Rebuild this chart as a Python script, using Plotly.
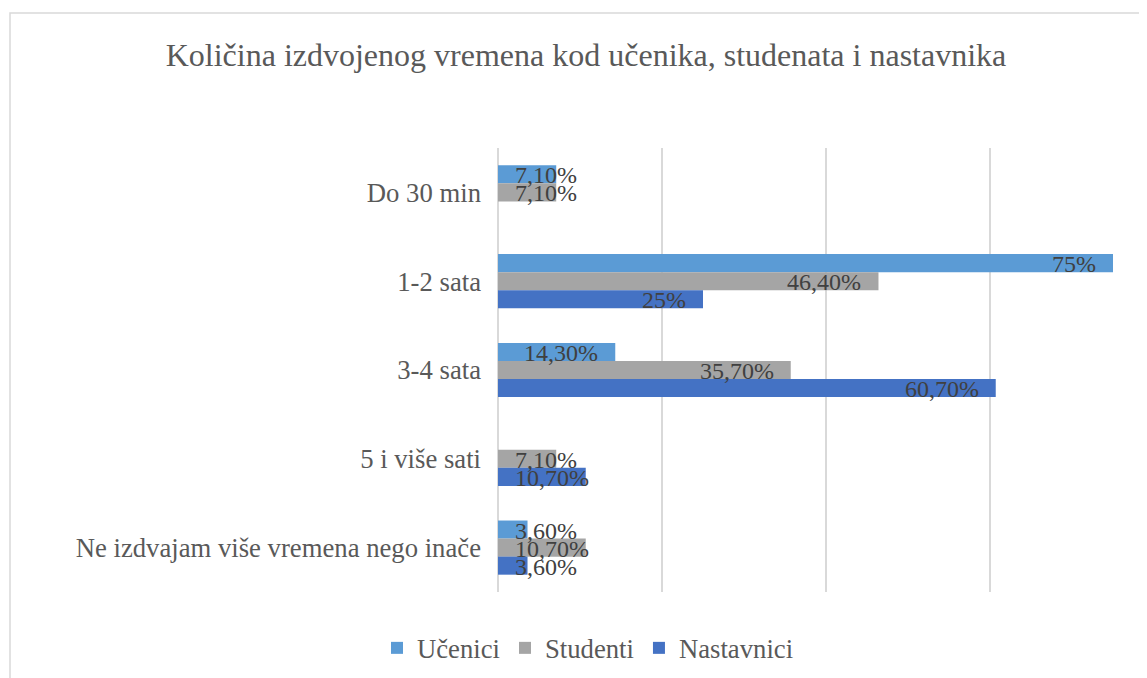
import plotly.graph_objects as go

categories = ["Do 30 min", "1-2 sata", "3-4 sata", "5 i više sati",
              "Ne izdvajam više vremena nego inače"]
series_names = ["Učenici", "Studenti", "Nastavnici"]
ucenici = [7.1, 75, 14.3, None, 3.6]
studenti = [7.1, 46.4, 35.7, 7.1, 10.7]
nastavnici = [None, 25, 60.7, 10.7, 3.6]
colors = ["#5B9BD5", "#A5A5A5", "#4472C4"]
title_text = "Količina izdvojenog vremena kod učenika, studenata i nastavnika"
x_max = 75

W, H = 1147, 678
OFF = 8  # page body margin
L, R, T, B = 498 - OFF, 1113 - OFF, 148 - OFF, 592 - OFF
FONT = "Liberation Serif, Times New Roman, serif"
LABEL_SIZE = 24
BARGAP = 0.39


def fmt(v):
    if v is None:
        return None
    if float(v).is_integer():
        return f"{int(v)}%"
    return f"{v:.2f}".replace(".", ",") + "%"


def text_width(s, size):
    w = {",": 0.25, "%": 0.833}
    return sum(w.get(c, 0.5) for c in s) * size


fig = go.Figure()
all_series = [ucenici, studenti, nastavnici]
for name, vals, col in zip(series_names, all_series, colors):
    fig.add_trace(go.Bar(
        name=name, y=categories, x=vals, orientation="h",
        marker=dict(color=col, line=dict(width=0)),
        textposition="none", hoverinfo="x+y+name",
    ))

pw = R - L
ph = B - T
cat_px = ph / len(categories)
bar_px = cat_px * (1 - BARGAP) / len(all_series)
PAD = 15
annotations = []
for si, vals in enumerate(all_series):
    yshift = (1 - si) * bar_px - 1
    for cat, v in zip(categories, vals):
        if v is None:
            continue
        label = fmt(v)
        bw = v / x_max * pw
        tw = text_width(label, LABEL_SIZE)
        if bw - 2 * PAD - 2 >= tw:
            ann = dict(x=v, xanchor="right", xshift=-PAD)
        else:
            ann = dict(x=0, xanchor="left", xshift=PAD)
        ann.update(y=cat, xref="x", yref="y", yanchor="middle", yshift=yshift,
                   text=label, showarrow=False,
                   font=dict(family=FONT, size=LABEL_SIZE, color="#404040"))
        annotations.append(ann)

fig.update_layout(
    width=W, height=H,
    margin=dict(l=L, r=W - R, t=T, b=H - B, autoexpand=False),
    paper_bgcolor="white", plot_bgcolor="white",
    barmode="group", bargap=BARGAP, bargroupgap=0,
    font=dict(family=FONT, color="#595959", size=26.7),
    title=dict(text=title_text, x=(586 - OFF) / W, xref="container", xanchor="center",
               y=1 - (55 - OFF) / H, yref="container", yanchor="middle",
               font=dict(size=32, color="#595959", family=FONT)),
    legend=dict(orientation="h", xref="container", x=(588 - OFF) / W, xanchor="center",
                yref="container", y=1 - (648 - OFF) / H, yanchor="middle",
                font=dict(size=26.7, color="#595959", family=FONT),
                itemwidth=30),
    annotations=annotations,
    showlegend=True,
)
fig.update_xaxes(range=[0, x_max], dtick=20, tick0=0, showticklabels=False,
                 showgrid=True, gridcolor="#d9d9d9", gridwidth=1.5,
                 zeroline=True, zerolinecolor="#d9d9d9", zerolinewidth=1.5,
                 fixedrange=True)
fig.update_yaxes(autorange="reversed", showgrid=False, ticks="",
                 ticklabelstandoff=16,
                 tickfont=dict(size=26.7, color="#595959", family=FONT))

fig.add_shape(type="rect", xref="paper", yref="paper",
              x0=(10 - OFF - L) / pw, x1=(1200 - L) / pw,
              y0=(B - 720) / ph, y1=(B - (13 - OFF)) / ph,
              line=dict(color="#d9d9d9", width=1.5), fillcolor="rgba(0,0,0,0)",
              layer="below")

fig.write_html("out.html")
